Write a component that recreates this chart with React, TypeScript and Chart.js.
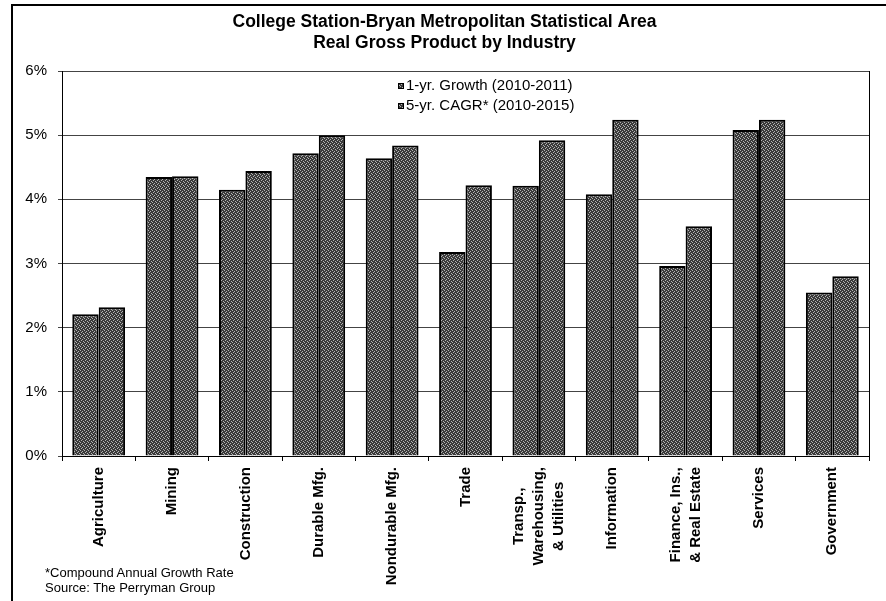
import React, { useEffect, useRef } from 'react';
import { Chart, registerables } from 'chart.js';

Chart.register(...registerables);

const FONT = '"Liberation Sans", Arial, Helvetica, sans-serif';

const titleLines = ['College Station-Bryan Metropolitan Statistical Area', 'Real Gross Product by Industry'];
const categories: string[][] = [
  ['Agriculture'],
  ['Mining'],
  ['Construction'],
  ['Durable Mfg.'],
  ['Nondurable Mfg.'],
  ['Trade'],
  ['Transp.,', 'Warehousing,', '& Utilities'],
  ['Information'],
  ['Finance, Ins.,', '& Real Estate'],
  ['Services'],
  ['Government'],
];
const seriesLabels = ['1-yr. Growth (2010-2011)', '5-yr. CAGR* (2010-2015)'];
const growth1yr = [2.21, 4.35, 4.15, 4.72, 4.64, 3.18, 4.21, 4.08, 2.96, 5.08, 2.55];
const cagr5yr = [2.32, 4.36, 4.44, 5.0, 4.84, 4.22, 4.92, 5.24, 3.58, 5.24, 2.8];
const yTicks = [0, 1, 2, 3, 4, 5, 6];
const footnotes = ['*Compound Annual Growth Rate', 'Source: The Perryman Group'];

function makeDither(): CanvasPattern | string {
  const c = document.createElement('canvas');
  c.width = 4;
  c.height = 4;
  const g = c.getContext('2d');
  if (!g) return '#555';
  g.fillStyle = '#3a3a3a';
  g.fillRect(0, 0, 4, 4);
  g.fillStyle = '#b4b4b4';
  g.fillRect(1, 0, 1, 1);
  g.fillRect(3, 1, 1, 1);
  g.fillRect(0, 2, 1, 1);
  g.fillRect(2, 3, 1, 1);
  return g.createPattern(c, 'repeat') || '#555';
}

const xLabelPlugin = {
  id: 'xLabels',
  afterDraw(chart: any) {
    const { ctx } = chart;
    const xs = chart.scales.x;
    const top = chart.chartArea.bottom + 11;
    ctx.save();
    ctx.font = `bold 15px ${FONT}`;
    ctx.fillStyle = '#000';
    ctx.textAlign = 'center';
    ctx.textBaseline = 'middle';
    (chart.data.labels as any[]).forEach((lab, i) => {
      const lines: string[] = Array.isArray(lab) ? lab : [lab];
      const w = Math.max(...lines.map((l) => ctx.measureText(l).width));
      const cx = xs.getPixelForTick(i);
      const cy = top + w / 2;
      lines.forEach((ln, j) => {
        const x = cx + (j - (lines.length - 1) / 2) * 20;
        ctx.save();
        ctx.translate(x, cy);
        ctx.rotate(-Math.PI / 2);
        ctx.fillText(ln, 0, 0);
        ctx.restore();
      });
    });
    ctx.restore();
  },
};

const legendPlugin = {
  id: 'innerLegend',
  afterDraw(chart: any) {
    const { ctx, chartArea } = chart;
    const x0 = chartArea.left + 336;
    const y0 = chartArea.top + 15;
    ctx.save();
    ctx.font = `15px ${FONT}`;
    ctx.textAlign = 'left';
    ctx.textBaseline = 'middle';
    chart.data.datasets.forEach((ds: any, i: number) => {
      const y = y0 + i * 20;
      ctx.fillStyle = ds.backgroundColor;
      ctx.fillRect(x0, y - 3, 6, 6);
      ctx.strokeStyle = '#000';
      ctx.lineWidth = 1;
      ctx.strokeRect(x0 + 0.5, y - 3 + 0.5, 5, 5);
      ctx.fillStyle = '#000';
      ctx.fillText(ds.label, x0 + 8, y);
    });
    ctx.restore();
  },
};

export default function App() {
  const canvasRef = useRef<HTMLCanvasElement | null>(null);

  useEffect(() => {
    if (!canvasRef.current) return;
    Chart.defaults.font.family = FONT;
    const fill = makeDither();
    const chart = new Chart(canvasRef.current, {
      type: 'bar',
      data: {
        labels: categories as any,
        datasets: [
          {
            label: seriesLabels[0],
            data: growth1yr,
            backgroundColor: fill,
            borderColor: '#000',
            borderWidth: 2,
            categoryPercentage: 0.72,
            barPercentage: 1,
          },
          {
            label: seriesLabels[1],
            data: cagr5yr,
            backgroundColor: fill,
            borderColor: '#000',
            borderWidth: 2,
            categoryPercentage: 0.72,
            barPercentage: 1,
          },
        ],
      },
      options: {
        responsive: false,
        animation: false,
        layout: { padding: { left: 20, right: 17, top: 0, bottom: 0 } },
        plugins: {
          legend: { display: false },
          tooltip: { enabled: false },
          title: {
            display: true,
            text: titleLines,
            color: '#000',
            font: { family: FONT, size: 17.5, weight: 'bold', lineHeight: 1.2 },
            padding: { top: 11.5, bottom: 17.5 },
          },
        },
        scales: {
          x: {
            type: 'category',
            grid: { offset: true, drawOnChartArea: false, drawTicks: true, tickLength: 5, color: '#000' },
            border: { display: true, color: '#000', width: 1 },
            ticks: { display: false },
            afterFit(s: any) {
              s.height = 145;
            },
          },
          y: {
            min: 0,
            max: 6,
            afterBuildTicks(s: any) {
              s.ticks = yTicks.map((v) => ({ value: v }));
            },
            ticks: {
              callback: (v: any) => `${v}%`,
              color: '#000',
              font: { family: FONT, size: 15 },
              padding: 11,
            },
            grid: { color: '#444', tickLength: 4 },
            border: { display: true, color: '#000', width: 1 },
            afterFit(s: any) {
              s.width = 42;
            },
          },
          y2: {
            position: 'right',
            display: true,
            grid: { display: false },
            ticks: { display: false },
            border: { display: true, color: '#000', width: 1 },
            afterFit(s: any) {
              s.width = 0;
            },
          },
        },
      },
      plugins: [xLabelPlugin, legendPlugin],
    } as any);
    return () => chart.destroy();
  }, []);

  return (
    <div style={{ position: 'absolute', left: 0, top: 0, width: 886, height: 601, overflow: 'hidden', background: '#fff' }}>
      <div style={{ position: 'absolute', left: 11, top: 4, width: 1000, height: 1000, border: '2px solid #000' }} />
      <canvas ref={canvasRef} width={886} height={601} style={{ position: 'absolute', left: 0, top: 0, width: 886, height: 601 }} />
      <div style={{ position: 'absolute', left: 45, top: 565, font: `13px ${FONT}`, lineHeight: '15px', color: '#000' }}>
        {footnotes.map((f) => (
          <div key={f}>{f}</div>
        ))}
      </div>
    </div>
  );
}
